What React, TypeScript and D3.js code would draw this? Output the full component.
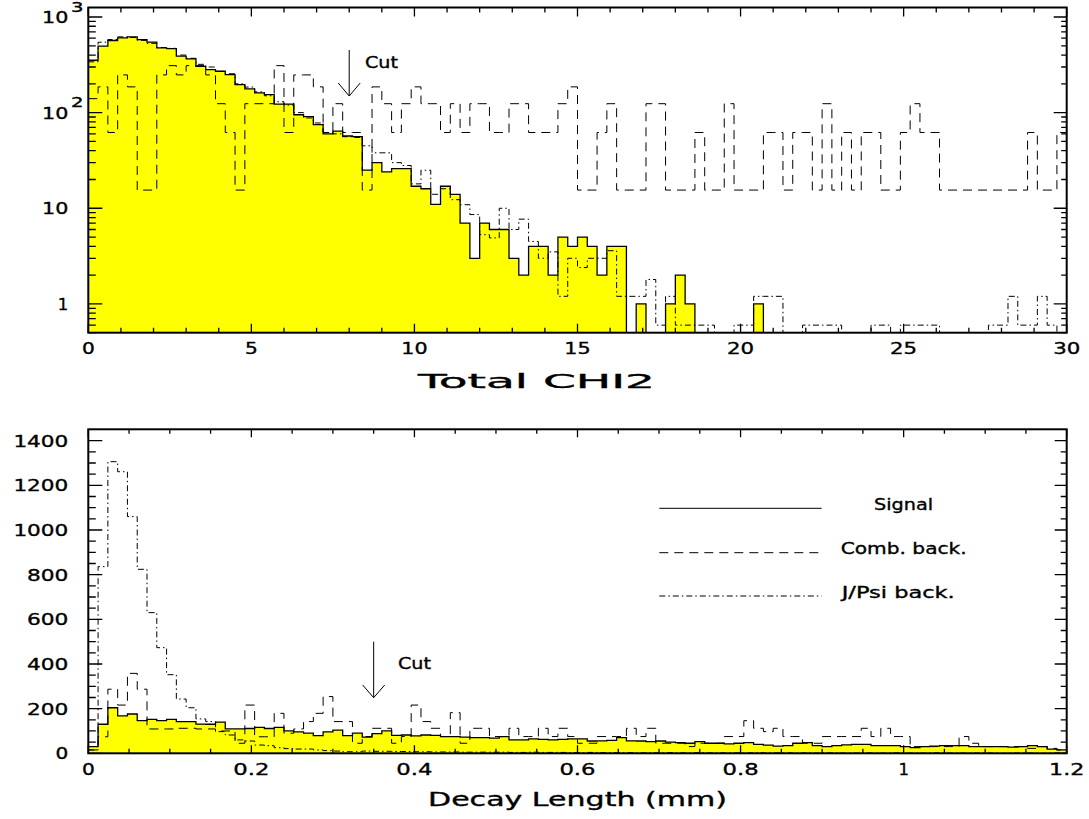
import React from 'react';
import * as d3 from 'd3';

// ---------- data (100 bins each) ----------
// Top panel: Total CHI2, range 0..30
const topSignal = [
  353, 495, 568, 606, 620, 581, 545, 476, 468, 389,
  365, 305, 282, 271, 250, 196, 177, 161, 154, 123,
  123, 95, 91, 75, 60, 64, 57, 56, 25, 30,
  24, 26, 26, 17, 16, 11, 17, 14, 7, 3,
  7, 6, 6, 3, 2, 4, 4, 2, 5, 4,
  5, 4, 2, 4, 4, 0, 1, 0, 0, 1,
  2, 1, 0, 0, 0, 0, 0, 0, 1, 0,
  0, 0, 0, 0, 0, 0, 0, 0, 0, 0,
  0, 0, 0, 0, 0, 0, 0, 0, 0, 0,
  0, 0, 0, 0, 0, 0, 0, 0, 0, 0,
];
const topComb = [
  140, 186, 62, 248, 186, 15.5, 15.5, 248, 310, 248,
  310, 310, 248, 124, 62, 15.5, 124, 124, 124, 310,
  62, 248, 248, 186, 62, 124, 62, 62, 15.5, 186,
  124, 62, 124, 186, 124, 124, 62, 124, 62, 124,
  124, 62, 62, 124, 124, 62, 62, 62, 124, 186,
  15.5, 15.5, 62, 124, 15.5, 15.5, 15.5, 124, 124, 15.5,
  15.5, 15.5, 62, 15.5, 15.5, 124, 15.5, 15.5, 15.5, 62,
  62, 15.5, 62, 62, 15.5, 124, 15.5, 62, 15.5, 62,
  62, 15.5, 15.5, 62, 124, 62, 62, 15.5, 15.5, 15.5,
  15.5, 15.5, 15.5, 15.5, 15.5, 15.5, 62, 15.5, 15.5, 62,
];
const topJpsi = [
  340, 545, 581, 620, 610, 570, 530, 480, 470, 400,
  370, 320, 300, 270, 255, 200, 185, 165, 150, 130,
  120, 100, 88, 78, 62, 60, 56, 55, 45, 38,
  38, 30, 28, 18, 25, 14, 16, 12.3, 10.9, 8.6,
  5.3, 4.9, 10, 6, 7.7, 4.5, 3, 3.5, 1.2, 3,
  2.4, 3, 3, 3.6, 1.2, 1.2, 1.2, 1.8, 0.6, 1.2,
  0.6, 0.6, 0.6, 0.6, 0, 0, 0.6, 0.6, 1.2, 1.2,
  1.2, 0, 0, 0.6, 0.6, 0.6, 0.6, 0, 0, 0,
  0.6, 0.6, 0, 0.6, 0.6, 0.6, 0.6, 0, 0, 0,
  0, 0, 0.6, 0.6, 1.2, 0.6, 0.6, 1.2, 0.6, 0,
];

// Bottom panel: Decay Length (mm), range 0..1.2
const botSignal = [
  30, 130, 204, 168, 176, 146, 152, 146, 152, 142,
  142, 131, 130, 140, 109, 109, 111, 116, 111, 116,
  100, 96, 90, 79, 96, 104, 79, 90, 72, 88,
  100, 80, 82, 78, 82, 80, 75, 75, 72, 70,
  70, 68, 75, 60, 60, 65, 62, 60, 62, 65,
  65, 55, 56, 58, 70, 56, 55, 52, 55, 50,
  48, 45, 52, 45, 45, 42, 45, 48, 40, 37,
  32, 34, 45, 48, 34, 30, 34, 38, 40, 40,
  34, 34, 34, 30, 25, 30, 32, 34, 34, 34,
  30, 30, 30, 30, 28, 30, 34, 30, 19, 15,
];
const botComb = [
  15, 74, 287, 216, 358, 287, 109, 109, 109, 112,
  112, 109, 109, 100, 100, 45, 216, 74, 74, 179,
  90, 109, 142, 179, 254, 142, 142, 45, 75, 112,
  112, 45, 75, 216, 142, 112, 75, 182, 45, 112,
  112, 75, 75, 112, 75, 75, 112, 75, 112, 75,
  45, 45, 75, 75, 75, 112, 75, 112, 45, 45,
  45, 30, 45, 45, 45, 75, 75, 146, 112, 97,
  112, 75, 75, 45, 45, 75, 75, 75, 75, 112,
  75, 112, 75, 75, 30, 30, 30, 30, 30, 75,
  45, 30, 30, 30, 30, 30, 22, 30, 22, 15,
];
const botJpsi = [
  15, 836, 1306, 1261, 1060, 824, 630, 473, 352, 243,
  204, 154, 142, 97, 82, 60, 55, 37, 34, 25,
  21, 19, 19, 15, 12, 10, 7, 7, 10, 9,
  9, 8, 8, 7, 7, 6, 6, 6, 5, 5,
  5, 5, 5, 4, 4, 5, 4, 4, 4, 3,
  3, 4, 3, 3, 3, 3, 2, 3, 2, 3,
  2, 2, 3, 2, 2, 2, 2, 2, 3, 2,
  2, 2, 1, 2, 1, 2, 2, 1, 1, 2,
  1, 1, 2, 1, 1, 1, 2, 1, 1, 1,
  1, 1, 1, 0, 1, 1, 1, 0, 1, 1,
];

const topXLabels = ['0', '5', '10', '15', '20', '25', '30'];
const topYLabels = [
  { v: 1, base: '1', sup: '' },
  { v: 10, base: '10', sup: '' },
  { v: 100, base: '10', sup: '2' },
  { v: 1000, base: '10', sup: '3' },
];
const botXLabels = ['0', '0.2', '0.4', '0.6', '0.8', '1', '1.2'];
const botYLabels = ['0', '200', '400', '600', '800', '1000', '1200', '1400'];
const legendItems = ['Signal', 'Comb. back.', 'J/Psi back.'];

// ---------- layout ----------
const W = 1089;
const H = 819;
const L = 88.3;
const R = 1066.7;
const T1 = 7.5;
const B1 = 332.7;
const T2 = 429.3;
const B2 = 753.3;
const FONT = "'DejaVu Sans', Verdana, sans-serif";
const DASH = '9,6';
const DASHDOT = '6,3,1.5,3';
const TXT_STROKE = 0.35;

const labelWidth = (s: string) => {
  let w = 0;
  for (const c of s) w += c === '.' ? 9 : c === '1' ? 13.5 : 14.3;
  return w - 1.5;
};

function stepPath(
  vals: number[],
  x: (v: number) => number,
  y: (v: number) => number,
  lo: number,
  hi: number,
  floor: number,
  closedBase?: number
) {
  const n = vals.length;
  const e = (i: number) => x(lo + ((hi - lo) * i) / n);
  const yv = (v: number) => y(Math.max(v, floor));
  let d = '';
  if (closedBase !== undefined) d += `M${e(0)},${closedBase}V${yv(vals[0])}`;
  else d += `M${e(0)},${yv(vals[0])}`;
  for (let i = 0; i < n; i++) {
    d += `H${e(i + 1)}`;
    if (i < n - 1) d += `V${yv(vals[i + 1])}`;
  }
  if (closedBase !== undefined) d += `V${closedBase}Z`;
  return d;
}

function Txt({ x, y, text, anchor = 'start', size = 16.5, width }: any) {
  const props: any = {};
  if (width) {
    props.textLength = width;
    props.lengthAdjust = 'spacingAndGlyphs';
  }
  return (
    <text
      x={x}
      y={y}
      textAnchor={anchor}
      fontSize={size}
      fontFamily={FONT}
      fill="#000"
      stroke="#000"
      strokeWidth={TXT_STROKE}
      {...props}
    >
      {text}
    </text>
  );
}

function Label({ x, y, text, anchor }: any) {
  const width = text === '1' ? undefined : labelWidth(text);
  return <Txt x={x} y={y} text={text} anchor={anchor} width={width} />;
}

export default function App() {
  const xTop = d3.scaleLinear().domain([0, 30]).range([L, R]);
  const yTop = d3.scaleLog().domain([0.5, 1257]).range([B1, T1]);
  const xBot = d3.scaleLinear().domain([0, 1.2]).range([L, R]);
  const yBot = d3.scaleLinear().domain([0, 1451]).range([B2, T2]);

  // ticks
  const topXTicks = d3.range(0, 31).map((v) => ({ v, major: v % 5 === 0 }));
  const topYTicks: { v: number; major: boolean }[] = [];
  [-1, 0, 1, 2, 3].forEach((e) => {
    for (let k = 1; k <= 9; k++) {
      const v = k * Math.pow(10, e);
      if (v >= 0.5 && v <= 1257) topYTicks.push({ v, major: k === 1 });
    }
  });
  const botXTicks = d3.range(0, 25).map((i) => ({ v: i * 0.05, major: i % 4 === 0 }));
  const botYTicks = d3.range(0, 29).map((i) => ({ v: i * 50, major: i % 4 === 0 }));

  const tickLines: string[] = [];
  topXTicks.forEach((t) => {
    const px = xTop(t.v);
    const len = t.major ? 9 : 5;
    tickLines.push(`M${px},${B1}V${B1 - len}M${px},${T1}V${T1 + len}`);
  });
  topYTicks.forEach((t) => {
    const py = yTop(t.v);
    const lenL = t.major ? 14 : 7.5;
    const lenR = t.major ? 13 : 5.5;
    tickLines.push(`M${L},${py}H${L + lenL}M${R},${py}H${R - lenR}`);
  });
  botXTicks.forEach((t) => {
    const px = xBot(t.v);
    const len = t.major ? 8 : 4.5;
    tickLines.push(`M${px},${B2}V${B2 - len}M${px},${T2}V${T2 + len}`);
  });
  botYTicks.forEach((t) => {
    const py = yBot(t.v);
    const lenL = t.major ? 14 : 7.5;
    const lenR = t.major ? 12 : 6;
    tickLines.push(`M${L},${py}H${L + lenL}M${R},${py}H${R - lenR}`);
  });

  const topFill = stepPath(topSignal, xTop, yTop, 0, 30, 0.5, B1);
  const topSig = stepPath(topSignal, xTop, yTop, 0, 30, 0.5);
  const topCmb = stepPath(topComb, xTop, yTop, 0, 30, 0.5);
  const topJps = stepPath(topJpsi, xTop, yTop, 0, 30, 0.5);
  const botFill = stepPath(botSignal, xBot, yBot, 0, 1.2, 0, B2);
  const botSig = stepPath(botSignal, xBot, yBot, 0, 1.2, 0);
  const botCmb = stepPath(botComb, xBot, yBot, 0, 1.2, 0);
  const botJps = stepPath(botJpsi, xBot, yBot, 0, 1.2, 0);

  const cutTopX = xTop(8);
  const cutBotX = xBot(0.35);
  const legendY = [508.3, 552.7, 596];
  const legendDash = [undefined, DASH, DASHDOT];
  const legendTextX = [874, 840.7, 841.7];
  const legendTextW = [59, 126, 113];

  return (
    <svg
      width={W}
      height={H}
      viewBox={`0 0 ${W} ${H}`}
      style={{ position: 'absolute', left: 0, top: 0, background: '#fff' }}
    >
      <defs>
        <clipPath id="clipTop">
          <rect x={L} y={T1} width={R - L} height={B1 - T1} />
        </clipPath>
        <clipPath id="clipBot">
          <rect x={L} y={T2} width={R - L} height={B2 - T2} />
        </clipPath>
      </defs>
      <rect x={0} y={0} width={W} height={H} fill="#fff" />

      {/* top panel histograms */}
      <g clipPath="url(#clipTop)">
        <path d={topFill} fill="#ffff00" stroke="none" />
        <path d={topJps} fill="none" stroke="#000" strokeWidth={1} strokeDasharray={DASHDOT} />
        <path d={topCmb} fill="none" stroke="#000" strokeWidth={1} strokeDasharray={DASH} />
        <path d={topSig} fill="none" stroke="#000" strokeWidth={1.3} />
      </g>

      {/* bottom panel histograms */}
      <g clipPath="url(#clipBot)">
        <path d={botFill} fill="#ffff00" stroke="none" />
        <path d={botJps} fill="none" stroke="#000" strokeWidth={1} strokeDasharray={DASHDOT} />
        <path d={botCmb} fill="none" stroke="#000" strokeWidth={1} strokeDasharray={DASH} />
        <path d={botSig} fill="none" stroke="#000" strokeWidth={1.3} />
      </g>

      {/* frames and ticks */}
      <rect x={L} y={T1} width={R - L} height={B1 - T1} fill="none" stroke="#000" strokeWidth={2} />
      <rect x={L} y={T2} width={R - L} height={B2 - T2} fill="none" stroke="#000" strokeWidth={2} />
      <path d={tickLines.join('')} stroke="#000" strokeWidth={1.3} fill="none" />

      {/* top tick labels */}
      {topXLabels.map((s) => (
        <Label key={'tx' + s} x={xTop(+s)} y={354} text={s} anchor="middle" />
      ))}
      {topYLabels.map((t) => (
        <g key={'ty' + t.v}>
          <Label x={68.3} y={yTop(t.v) + 6} text={t.base} anchor="end" />
          {t.sup && (
            <Txt x={71} y={yTop(t.v) - 5.5} text={t.sup} size={13.5} width={12.5} />
          )}
        </g>
      ))}

      {/* bottom tick labels */}
      {botXLabels.map((s) => (
        <Label key={'bx' + s} x={xBot(+s)} y={775} text={s} anchor="middle" />
      ))}
      {botYLabels.map((s) => (
        <Label key={'by' + s} x={68.3} y={yBot(+s) + 6} text={s} anchor="end" />
      ))}

      {/* axis titles */}
      <Txt x={418} y={388} text="Total CHI2" size={19.5} width={237} />
      <Txt x={428} y={806} text="Decay Length (mm)" size={19.5} width={299} />

      {/* cut arrows */}
      <g stroke="#000" strokeWidth={1} fill="none">
        <path d={`M${cutTopX},50V96M${cutTopX - 11},83L${cutTopX},96L${cutTopX + 11},83`} />
        <path d={`M${cutBotX},641.7V697.7M${cutBotX - 11},685L${cutBotX},697.7L${cutBotX + 11},685`} />
      </g>
      <Txt x={365} y={68} text="Cut" size={15.5} width={33} />
      <Txt x={398} y={669} text="Cut" size={15.5} width={33} />

      {/* legend */}
      {legendItems.map((s, i) => (
        <g key={s}>
          <line
            x1={659.3}
            x2={821.7}
            y1={legendY[i]}
            y2={legendY[i]}
            stroke="#000"
            strokeWidth={1}
            strokeDasharray={legendDash[i]}
          />
          <Txt x={legendTextX[i]} y={legendY[i] + 1.7} text={s} size={16} width={legendTextW[i]} />
        </g>
      ))}
    </svg>
  );
}
